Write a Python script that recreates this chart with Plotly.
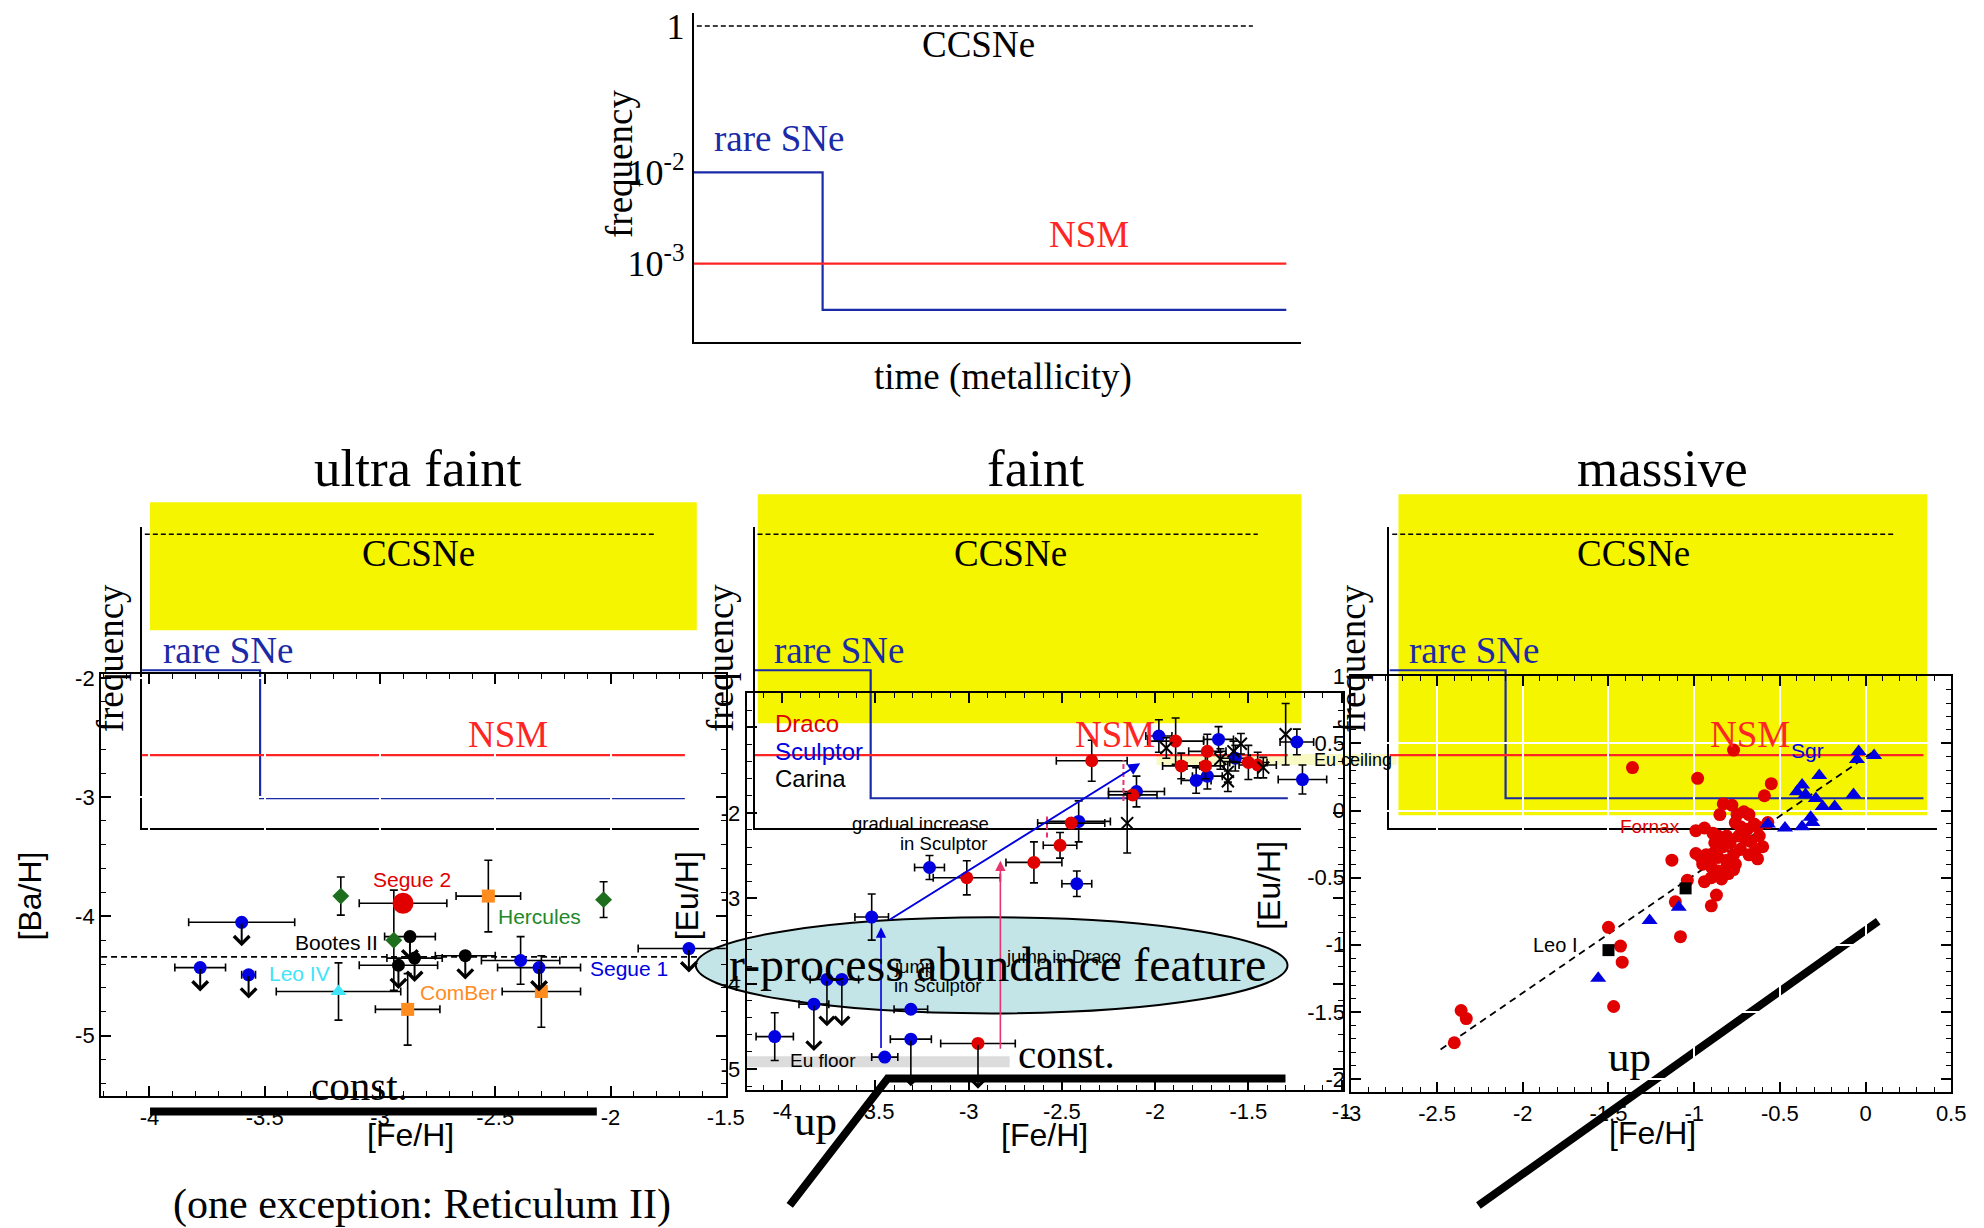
import plotly.graph_objects as go

# Empirical placement: the photographed page shows the figure offset by the body
# margin and scaled by about 0.986 (x) / 0.99 (y); layout positions below are given in
# target-picture pixels and converted to paper fractions through P() and Q().
OFF_X, OFF_Y = 8, 12
SX, SY = 0.986, 0.99
W, H = 2004, 1232
SERIF = "Liberation Serif, 'Times New Roman', serif"
SANS = "Liberation Sans, Arial, Helvetica, sans-serif"

YELLOW = "#f5f500"
SCH_BLUE = "#1a2aa8"
SCH_RED = "#ff2525"
RED = "#e00000"
BLUE = "#0000e0"
GREEN = "#1d6e1d"
ORANGE = "#ff8c1f"
CYAN = "#40e4f8"
PINK = "#e8336e"

# ---------------- schematic: frequency vs time (metallicity) ----------------
sch_cc_time = [0.005, 0.92]
sch_cc_freq = [0.977, 0.977]
sch_rare_time = [0.0, 0.212, 0.212, 0.975]
sch_rare_freq = [0.525, 0.525, 0.100, 0.100]
sch_nsm_time = [0.0, 0.975]
sch_nsm_freq = [0.243, 0.243]
freq_tickvals = [0.977, 0.525, 0.243]
freq_ticktext = ["1", "10<sup>-2</sup>", "10<sup>-3</sup>"]

# ---------------- ultra faint: [Ba/H] vs [Fe/H] ----------------
seg1_feh = [-3.78, -3.60, -3.57, -2.39, -2.31, -1.66]
seg1_bah = [-4.43, -4.05, -4.49, -4.37, -4.43, -4.27]
seg1_xerr = [0.11, 0.23, 0.03, 0.17, 0.18, 0.22]
seg1_yerr = [0.0, 0.0, 0.0, 0.20, 0.0, 0.0]
seg1_limit = [1, 1, 1, 0, 1, 1]

boo_feh = [-2.87, -2.85, -2.92, -2.63]
boo_bah = [-4.17, -4.35, -4.41, -4.33]
boo_xerr = [0.11, 0.12, 0.17, 0.13]
boo_limit = [1, 1, 1, 1]

her_feh = [-3.17, -2.94, -2.03]
her_bah = [-3.83, -4.20, -3.86]
her_yerr = [0.16, 0.42, 0.15]

seg2_feh = [-2.90]
seg2_bah = [-3.89]
seg2_xerr = [0.19]

com_feh = [-2.53, -2.88, -2.30]
com_bah = [-3.83, -4.78, -4.63]
com_xerr = [0.14, 0.14, 0.17]
com_yerr = [0.30, 0.30, 0.30]

leo4_feh = [-3.18]
leo4_bah = [-4.63]
leo4_xerr = [0.27]
leo4_yerr = [0.24]

ba_ref_level = -4.34

# ---------------- faint: [Eu/H] vs [Fe/H] ----------------
scl_feh = [-4.04, -3.83, -3.76, -3.68, -3.52, -3.45, -3.31, -3.31, -3.21, -2.42,
           -2.41, -2.10, -1.98, -1.66, -1.78, -1.72, -1.57, -1.24, -1.21]
scl_euh = [-4.62, -4.24, -3.95, -3.95, -3.22, -4.86, -4.30, -4.65, -2.64, -2.83,
           -2.10, -1.75, -1.10, -1.14, -1.62, -1.57, -1.36, -1.17, -1.61]
scl_xerr = [0.10, 0.08, 0.09, 0.09, 0.09, 0.07, 0.09, 0.11, 0.08, 0.08,
            0.17, 0.15, 0.07, 0.08, 0.08, 0.08, 0.08, 0.09, 0.13]
scl_yerr = [0.28, 0.0, 0.0, 0.0, 0.27, 0.0, 0.0, 0.0, 0.14, 0.15,
            0.24, 0.18, 0.19, 0.15, 0.15, 0.15, 0.15, 0.15, 0.17]
scl_limit = [0, 1, 1, 1, 0, 0, 0, 1, 0, 0, 0, 0, 0, 0, 0, 0, 0, 0, 0]

dra_feh = [-2.95, -3.01, -2.65, -2.51, -2.45, -2.34, -2.12, -1.89, -1.86, -1.72, -1.73, -1.50, -1.45]
dra_euh = [-4.70, -2.76, -2.58, -2.38, -2.12, -1.39, -1.79, -1.16, -1.45, -1.28, -1.45, -1.41, -1.44]
dra_xerr = [0.20, 0.18, 0.15, 0.09, 0.18, 0.19, 0.13, 0.15, 0.10, 0.10, 0.10, 0.10, 0.10]
dra_yerr = [0.0, 0.20, 0.24, 0.15, 0.0, 0.24, 0.0, 0.27, 0.15, 0.20, 0.15, 0.20, 0.15]
dra_limit = [1, 0, 0, 0, 0, 0, 0, 0, 0, 0, 0, 0, 0]

car_feh = [-2.15, -1.94, -1.65, -1.61, -1.61, -1.58, -1.54, -1.42, -1.30]
car_euh = [-2.12, -1.24, -1.37, -1.52, -1.63, -1.28, -1.19, -1.47, -1.08]
car_yerr = [0.35, 0.12, 0.12, 0.12, 0.12, 0.12, 0.12, 0.12, 0.36]

eu_floor_feh = [-4.19, -2.78]
eu_floor_euh = [-4.98, -4.85]
eu_ceiling_euh = [-1.44, -1.31]

scl_gradual_feh = [-3.43, -2.08]
scl_gradual_euh = [-3.26, -1.42]
scl_jump_feh = [-3.47, -3.47]
scl_jump_euh = [-4.77, -3.34]
dra_jump_feh = [-2.83, -2.83]
dra_jump_euh = [-4.78, -2.56]
dra_step_feh = [-2.58, -2.17]
dra_step_lo = [-2.29, -1.86]
dra_step_hi = [-2.04, -1.38]

# ---------------- massive: [Eu/H] vs [Fe/H] ----------------
forn_feh = [-2.40, -2.36, -2.33, -1.47, -1.50, -1.43, -1.42, -1.08, -1.11, -1.13, -1.04, -0.90, -0.87,
            -1.36, -0.98, -0.77, -0.55, -0.59, -0.83, -0.78, -0.85, -0.99, -0.94, -0.89, -0.86, -0.81,
            -0.75, -0.71, -0.68, -0.76, -0.73, -0.69, -0.65, -0.63, -0.79, -0.83, -0.88, -0.74, -0.70,
            -0.67, -0.62, -0.60, -0.64, -0.68, -0.73, -0.77, -0.81, -0.86, -0.89, -0.93, -0.96, -0.99,
            -0.95, -0.90, -0.86, -0.81, -0.76, -0.80, -0.84, -0.90, -0.94, -0.63, -0.77, -0.92, -0.57]
forn_euh = [-1.73, -1.49, -1.55, -1.46, -0.87, -1.01, -1.13, -0.94, -0.68, -0.37, -0.52, -0.71, -0.63,
            0.32, 0.24, 0.45, 0.20, 0.11, 0.05, 0.04, -0.03, -0.15, -0.13, -0.17, -0.19, -0.19,
            -0.03, -0.01, -0.03, -0.09, -0.12, -0.14, -0.10, -0.12, -0.24, -0.27, -0.24, -0.19, -0.22,
            -0.23, -0.19, -0.27, -0.29, -0.33, -0.29, -0.33, -0.37, -0.35, -0.32, -0.33, -0.35, -0.32,
            -0.40, -0.42, -0.45, -0.42, -0.40, -0.47, -0.51, -0.50, -0.53, -0.36, -0.44, -0.37, -0.09]

sgr_feh = [-0.04, 0.05, -0.05, -0.27, -0.37, -0.40, -0.35, -0.29, -0.25, -0.18, -0.07, -0.32,
           -0.31, -0.37, -0.47, -0.57, -1.09, -1.26, -1.56]
sgr_euh = [0.44, 0.41, 0.38, 0.26, 0.19, 0.14, 0.12, 0.09, 0.03, 0.03, 0.12, -0.05,
           -0.09, -0.12, -0.13, -0.10, -0.72, -0.82, -1.25]

leo1_feh = [-1.05, -1.50]
leo1_euh = [-0.58, -1.04]

fit_feh = [-2.48, 0.06]
fit_euh = [-1.78, 0.45]

# ---------------- helpers (target pixel -> paper) ----------------
def P(x):
    return (x / SX - OFF_X) / W


def Q(y):
    return 1 - (y / SY - OFF_Y) / H


def dom(a, b):
    return [max(0.0, min(1.0, a)), max(0.0, min(1.0, b))]


fig = go.Figure()

sch_axes = [("x", "y"), ("x2", "y2"), ("x3", "y3"), ("x4", "y4")]
for xa, ya in sch_axes:
    fig.add_trace(go.Scatter(x=sch_cc_time, y=sch_cc_freq, mode="lines",
                             line=dict(color="black", width=1.6, dash="5px,3px"),
                             xaxis=xa, yaxis=ya, hoverinfo="skip"))
    fig.add_trace(go.Scatter(x=sch_rare_time, y=sch_rare_freq, mode="lines",
                             line=dict(color=SCH_BLUE, width=2.2),
                             xaxis=xa, yaxis=ya, hoverinfo="skip"))
    fig.add_trace(go.Scatter(x=sch_nsm_time, y=sch_nsm_freq, mode="lines",
                             line=dict(color=SCH_RED, width=2.2),
                             xaxis=xa, yaxis=ya, hoverinfo="skip"))


def err(arr):
    return dict(type="data", array=arr, visible=True, color="black", thickness=1.6, width=4)


def pts(x, y, xa, ya, color, size, symbol="circle", xerr=None, yerr=None, line=None):
    kw = {}
    if xerr is not None:
        kw["error_x"] = err(xerr)
    if yerr is not None:
        kw["error_y"] = err(yerr)
    mk = dict(color=color, size=size, symbol=symbol, line=dict(width=0))
    if line is not None:
        mk["line"] = line
    fig.add_trace(go.Scatter(x=x, y=y, mode="markers", marker=mk, xaxis=xa, yaxis=ya,
                             hoverinfo="skip", **kw))


# ultra faint panel (x5/y5)
fig.add_trace(go.Scatter(x=[-4.21, -1.62], y=[ba_ref_level, ba_ref_level], mode="lines",
                         line=dict(color="black", width=1.6, dash="6px,4px"),
                         xaxis="x5", yaxis="y5", hoverinfo="skip"))
pts(seg1_feh, seg1_bah, "x5", "y5", BLUE, 13, xerr=seg1_xerr, yerr=seg1_yerr)
pts(boo_feh, boo_bah, "x5", "y5", "black", 13, xerr=boo_xerr)
pts(her_feh, her_bah, "x5", "y5", GREEN, 13, symbol="diamond", yerr=her_yerr)
pts(seg2_feh, seg2_bah, "x5", "y5", RED, 21, xerr=seg2_xerr)
pts(com_feh, com_bah, "x5", "y5", ORANGE, 13, symbol="square", xerr=com_xerr, yerr=com_yerr)
pts(leo4_feh, leo4_bah, "x5", "y5", CYAN, 14, symbol="triangle-up", xerr=leo4_xerr, yerr=leo4_yerr)

# faint panel (x6/y6)
pts(scl_feh, scl_euh, "x6", "y6", BLUE, 13, xerr=scl_xerr, yerr=scl_yerr)
pts(dra_feh, dra_euh, "x6", "y6", RED, 13, xerr=dra_xerr, yerr=dra_yerr)
pts(car_feh, car_euh, "x6", "y6", "black", 12, symbol="x-thin", yerr=car_yerr,
    line=dict(width=2, color="black"))
for i in range(len(dra_step_feh)):
    fig.add_trace(go.Scatter(x=[dra_step_feh[i], dra_step_feh[i]], y=[dra_step_lo[i], dra_step_hi[i]],
                             mode="lines", line=dict(color=PINK, width=2, dash="5px,3px"),
                             xaxis="x6", yaxis="y6", hoverinfo="skip"))

# massive panel (x7/y7)
fig.add_trace(go.Scatter(x=fit_feh, y=fit_euh, mode="lines",
                         line=dict(color="black", width=1.8, dash="7px,5px"),
                         xaxis="x7", yaxis="y7", hoverinfo="skip"))
pts(forn_feh, forn_euh, "x7", "y7", RED, 13)
pts(sgr_feh, sgr_euh, "x7", "y7", BLUE, 14, symbol="triangle-up")
pts(leo1_feh, leo1_euh, "x7", "y7", "black", 12, symbol="square")

# ---------------- annotations ----------------
ann = []


def txt(text, x, y, xref="paper", yref="paper", size=20, color="black", family=SANS,
        xanchor="center", yanchor="middle", angle=0):
    ann.append(dict(text=text, x=x, y=y, xref=xref, yref=yref, showarrow=False,
                    font=dict(family=family, size=size, color=color),
                    xanchor=xanchor, yanchor=yanchor, textangle=angle))


def arrow(x0, y0, x1, y1, xref, yref, color="black", width=1.5, head=4, size=1.2):
    ann.append(dict(x=x1, y=y1, ax=x0, ay=y0, xref=xref, yref=yref, axref=xref, ayref=yref,
                    showarrow=True, arrowhead=head, arrowsize=size, arrowwidth=width,
                    arrowcolor=color, text=""))


for xs, ys, lim, xa, ya, L, wd, sz in [
    (seg1_feh, seg1_bah, seg1_limit, "x5", "y5", 0.2, 2.0, 1.5),
    (boo_feh, boo_bah, boo_limit, "x5", "y5", 0.2, 2.0, 1.5),
    (scl_feh, scl_euh, scl_limit, "x6", "y6", 0.55, 1.6, 1.8),
    (dra_feh, dra_euh, dra_limit, "x6", "y6", 0.53, 1.6, 1.8),
]:
    for xv, yv, l in zip(xs, ys, lim):
        if l:
            arrow(xv, yv, xv, yv - L, xa, ya, "black", wd, 4, sz)

arrow(scl_gradual_feh[0], scl_gradual_euh[0], scl_gradual_feh[1], scl_gradual_euh[1], "x6", "y6", BLUE, 2, 2, 1.2)
arrow(scl_jump_feh[0], scl_jump_euh[0], scl_jump_feh[1], scl_jump_euh[1], "x6", "y6", BLUE, 1.6, 2, 1.3)
arrow(dra_jump_feh[0], dra_jump_euh[0], dra_jump_feh[1], dra_jump_euh[1], "x6", "y6", PINK, 1.6, 2, 1.3)
for i in range(len(dra_step_feh)):
    arrow(dra_step_feh[i], dra_step_hi[i] - 0.04, dra_step_feh[i], dra_step_hi[i], "x6", "y6", PINK, 2, 2, 1.2)

SCH_SIZE = 37
txt("CCSNe", 0.469, 0.919, "x", "y", SCH_SIZE, "black", SERIF)
txt("rare SNe", 0.14, 0.628, "x", "y", SCH_SIZE, SCH_BLUE, SERIF)
txt("NSM", 0.651, 0.334, "x", "y", SCH_SIZE, SCH_RED, SERIF)
txt("frequency", P(617), Q(164), size=SCH_SIZE, family=SERIF, angle=-90)
txt("time (metallicity)", P(1001), Q(377), size=SCH_SIZE, family=SERIF)

cc_x = [0.496, 0.468, 0.445]
freq_px = [108, 719, 1351]
time_x = [0.528, 0.534, 0.536]
for k, (xa, ya) in enumerate(sch_axes[1:]):
    txt("CCSNe", cc_x[k], 0.914, xa, ya, SCH_SIZE, "black", SERIF)
    txt("rare SNe", 0.155, 0.591, xa, ya, SCH_SIZE, SCH_BLUE, SERIF)
    txt("NSM", 0.658, 0.312, xa, ya, SCH_SIZE, SCH_RED, SERIF)
    txt("time (metallicity)", time_x[k], -0.12, xa, ya, SCH_SIZE, "black", SERIF)
    txt("frequency", P(freq_px[k]), Q(658), size=SCH_SIZE, family=SERIF, angle=-90)

txt("ultra faint", P(416), Q(468), size=53, family=SERIF)
txt("faint", P(1034), Q(468), size=53, family=SERIF)
txt("massive", P(1661), Q(468), size=53, family=SERIF)

txt("[Fe/H]", P(409), Q(1135), size=32)
txt("[Fe/H]", P(1043), Q(1135), size=32)
txt("[Fe/H]", P(1651), Q(1133), size=32)
txt("[Ba/H]", P(28), Q(896), size=32, angle=-90)
txt("[Eu/H]", P(686), Q(895), size=32, angle=-90)
txt("[Eu/H]", P(1268), Q(885), size=32, angle=-90)

txt("Segue 2", -2.86, -3.69, "x5", "y5", 21, RED)
txt("Hercules", -2.31, -4.00, "x5", "y5", 21, "#22882a")
txt("Bootes II", -3.19, -4.22, "x5", "y5", 21, "black")
txt("Leo IV", -3.35, -4.48, "x5", "y5", 21, CYAN)
txt("ComBer", -2.66, -4.64, "x5", "y5", 21, ORANGE)
txt("Segue 1", -1.92, -4.44, "x5", "y5", 21, BLUE)

txt("Draco", -4.05, -0.95, "x6", "y6", 24, RED, xanchor="left")
txt("Sculptor", -4.05, -1.28, "x6", "y6", 24, BLUE, xanchor="left")
txt("Carina", -4.05, -1.60, "x6", "y6", 24, "black", xanchor="left")
txt("gradual increase", -2.88, -2.12, "x6", "y6", 18.5, xanchor="right")
txt("in Sculptor", -2.89, -2.36, "x6", "y6", 18.5, xanchor="right")
txt("jump", -3.41, -3.80, "x6", "y6", 18.5, xanchor="left")
txt("in Sculptor", -3.41, -4.02, "x6", "y6", 18.5, xanchor="left")
txt("jump in Draco", -2.49, -3.68, "x6", "y6", 18.5)
txt("Eu floor", -3.97, -4.90, "x6", "y6", 19, xanchor="left")
txt("Eu ceiling", -1.16, -1.38, "x6", "y6", 18, xanchor="left")

txt("Sgr", -0.34, 0.45, "x7", "y7", 21, BLUE)
txt("Fornax", -1.26, -0.12, "x7", "y7", 19, RED)
txt("Leo I", -1.81, -1.00, "x7", "y7", 20, "black")

txt("r-process abundance feature", P(996), Q(964), size=48, family=SERIF)
txt("const.", P(358), Q(1086), size=41, family=SERIF)
txt("const.", P(1065), Q(1054), size=41, family=SERIF)
txt("up", P(814), Q(1120), size=43, family=SERIF)
txt("up", P(1628), Q(1056), size=43, family=SERIF)
txt("(one exception: Reticulum II)", P(420), Q(1204), size=42, family=SERIF)

# ---------------- shapes ----------------
shapes = []


def rect(x0, y0, x1, y1, color, layer="below"):
    shapes.append(dict(type="rect", xref="paper", yref="paper", x0=P(x0), x1=P(x1),
                       y0=Q(y1), y1=Q(y0), fillcolor=color, line=dict(width=0), layer=layer))


rect(148, 502, 695, 630, YELLOW)
rect(756, 494, 1300, 723, YELLOW)
rect(1397, 494, 1926, 815, YELLOW)

shapes.append(dict(type="circle", xref="paper", yref="paper", x0=P(694), x1=P(1286),
                   y0=Q(1013), y1=Q(917), fillcolor="#c3e5e8",
                   line=dict(color="black", width=2), layer="below"))
shapes.append(dict(type="rect", xref="x6", yref="y6", x0=eu_floor_feh[0], x1=eu_floor_feh[1],
                   y0=eu_floor_euh[0], y1=eu_floor_euh[1], fillcolor="#dcdcdc",
                   line=dict(width=0), layer="below"))
shapes.append(dict(type="rect", xref="paper", yref="y6", x0=P(1155), x1=P(1395),
                   y0=eu_ceiling_euh[0], y1=eu_ceiling_euh[1], fillcolor="#f9f9c4",
                   line=dict(width=0), layer="below"))


def thick_path(points, layer):
    d = "M " + " L ".join(f"{P(x):.5f},{Q(y):.5f}" for x, y in points)
    shapes.append(dict(type="path", xref="paper", yref="paper", path=d,
                       line=dict(color="black", width=8), layer=layer))


thick_path([(148, 1111), (595, 1111)], "above")
thick_path([(788, 1205), (886, 1078), (1284, 1078)], "above")
thick_path([(1477, 1205), (1877, 921)], "below")

# ---------------- axes ----------------
def sch_x(domain, anchor):
    return dict(domain=domain, range=[0, 1], anchor=anchor, showline=True, linecolor="black",
                linewidth=2, ticks="", showticklabels=False, showgrid=False, zeroline=False,
                fixedrange=True)


def sch_y(domain, anchor, rng, labels=False):
    d = dict(domain=domain, range=rng, anchor=anchor, showline=True, linecolor="black",
             linewidth=2, ticks="", showgrid=False, zeroline=False, fixedrange=True,
             showticklabels=labels)
    if labels:
        d.update(tickvals=freq_tickvals, ticktext=freq_ticktext,
                 tickfont=dict(family=SERIF, size=36, color="black"))
    return d


def data_x(domain, anchor, rng, vals, grid, texts=None):
    return dict(domain=domain, range=rng, anchor=anchor, tickvals=vals,
                ticktext=texts if texts is not None else [f"{v:g}" for v in vals],
                ticks="inside", ticklen=10, tickwidth=1.5,
                tickcolor="black", showline=True, linecolor="black", linewidth=2,
                mirror="allticks", showgrid=grid, gridcolor="white", gridwidth=2,
                zeroline=False, fixedrange=True,
                minor=dict(dtick=0.1, tick0=0, ticks="inside", ticklen=5, tickwidth=1.2,
                           tickcolor="black", showgrid=False),
                tickfont=dict(family=SANS, size=22, color="black"))


def data_y(domain, anchor, rng, vals, minor, grid, texts=None):
    d = data_x(domain, anchor, rng, vals, grid, texts)
    d["minor"] = dict(dtick=minor, tick0=0, ticks="inside", ticklen=5, tickwidth=1.2,
                      tickcolor="black", showgrid=False)
    return d


SCH_Y = dom(Q(828), Q(527))

fig.update_layout(
    width=W, height=H, autosize=False,
    margin=dict(l=0, r=0, t=0, b=0),
    paper_bgcolor="white", plot_bgcolor="rgba(0,0,0,0)",
    showlegend=False,
    font=dict(family=SANS, color="black"),
    xaxis=sch_x(dom(P(692), P(1300)), "y"),
    yaxis=sch_y(dom(Q(342), Q(13)), "x", [0, 1.017], labels=True),
    xaxis2=sch_x(dom(P(140), P(697)), "y2"),
    yaxis2=sch_y(SCH_Y, "x2", [0, 1]),
    xaxis3=sch_x(dom(P(753), P(1300)), "y3"),
    yaxis3=sch_y(SCH_Y, "x3", [0, 1]),
    xaxis4=sch_x(dom(P(1388), P(1936)), "y4"),
    yaxis4=sch_y(SCH_Y, "x4", [0, 1]),
    xaxis5=data_x(dom(P(99), P(724)), "y5", [-4.21, -1.5], [-4, -3.5, -3, -2.5, -2, -1.5], True),
    yaxis5=data_y(dom(Q(1096), Q(674)), "x5", [-5.51, -1.97], [-5, -4, -3, -2], 0.2, True),
    xaxis6=data_x(dom(P(745), P(1342)), "y6", [-4.19, -0.99], [-4, -3.5, -3, -2.5, -2, -1.5, -1], False),
    yaxis6=data_y(dom(Q(1090), Q(693)), "x6", [-5.25, -0.6], [-5, -4, -3, -2, -1], 0.2, False,
                  texts=["-5", "-4", "-3", "-2", ""]),
    xaxis7=data_x(dom(P(1350), P(1950)), "y7", [-3, 0.5], [-3, -2.5, -2, -1.5, -1, -0.5, 0, 0.5], True),
    yaxis7=data_y(dom(Q(1092), Q(676)), "x7", [-2.1, 1.0], [-2, -1.5, -1, -0.5, 0, 0.5, 1], 0.1, True),
    annotations=ann,
    shapes=shapes,
)

fig.write_html("out.html")
